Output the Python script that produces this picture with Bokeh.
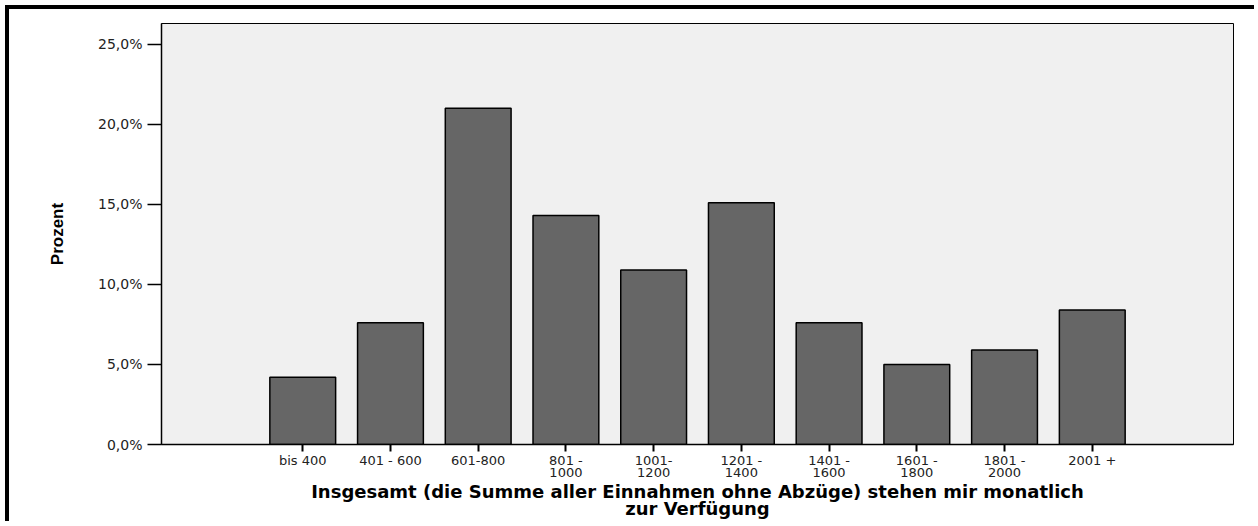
from bokeh.plotting import figure
from bokeh.models import FactorRange, Range1d, FixedTicker, ColumnDataSource
from bokeh.embed import file_html
from bokeh.resources import INLINE

categories = ["bis 400", "401 - 600", "601-800", "801 -\n1000", "1001-\n1200",
              "1201 -\n1400", "1401 -\n1600", "1601 -\n1800", "1801 -\n2000", "2001 +"]
percent = [4.2, 7.6, 21.0, 14.3, 10.9, 15.1, 7.6, 5.0, 5.9, 8.4]
y_ticks = [0, 5, 10, 15, 20, 25]
y_tick_labels = ["0,0%", "5,0%", "10,0%", "15,0%", "20,0%", "25,0%"]
x_title = "Insgesamt (die Summe aller Einnahmen ohne Abzüge) stehen mir monatlich\nzur Verfügung"
y_title = "Prozent"

source = ColumnDataSource(data=dict(cat=categories, pct=percent))

p = figure(
    width=1249, height=516,
    x_range=FactorRange(factors=categories, range_padding=1.11, range_padding_units="absolute"),
    y_range=Range1d(0, 26.3),
    output_backend="svg", toolbar_location=None,
    min_border_left=152, min_border_top=14, min_border_right=25, min_border_bottom=81,
    background_fill_color="#f0f0f0", border_fill_color="white",
)
p.styles = {"border-top": "4px solid black", "border-left": "4px solid black",
            "margin-top": "5px", "margin-left": "5px"}

p.vbar(x="cat", top="pct", width=0.75, source=source,
       fill_color="#666666", line_color="black", line_width=1.5)

p.xgrid.visible = False
p.ygrid.visible = False
p.outline_line_color = "black"
p.outline_line_width = 1

# y axis
p.yaxis.ticker = FixedTicker(ticks=y_ticks)
p.yaxis.major_label_overrides = {t: l for t, l in zip(y_ticks, y_tick_labels)}
p.yaxis.minor_tick_line_color = None
p.yaxis.major_tick_out = 14
p.yaxis.major_tick_in = 0
p.yaxis.major_tick_line_color = "black"
p.yaxis.major_tick_line_width = 1.5
p.yaxis.axis_line_color = "black"
p.yaxis.axis_line_width = 1.5
p.yaxis.major_label_text_font = "DejaVu Sans"
p.yaxis.major_label_text_font_size = "14px"
p.yaxis.major_label_text_color = "#222222"
p.yaxis.major_label_standoff = 5
p.yaxis.axis_label = y_title
p.yaxis.axis_label_text_font = "Liberation Sans"
p.yaxis.axis_label_text_font_style = "bold"
p.yaxis.axis_label_text_font_size = "17px"
p.yaxis.axis_label_text_color = "black"
p.yaxis.axis_label_standoff = 28

# x axis
p.xaxis.major_tick_out = 7
p.xaxis.major_tick_in = 0
p.xaxis.major_tick_line_color = "black"
p.xaxis.major_tick_line_width = 2
p.xaxis.axis_line_color = "black"
p.xaxis.axis_line_width = 1.5
p.xaxis.major_label_text_font = "DejaVu Sans"
p.xaxis.major_label_text_font_size = "13px"
p.xaxis.major_label_text_color = "#222222"
p.xaxis.major_label_text_line_height = 0.85
p.xaxis.major_label_standoff = 1
p.xaxis.axis_label = x_title
p.xaxis.axis_label_text_font = "DejaVu Sans"
p.xaxis.axis_label_text_font_style = "bold"
p.xaxis.axis_label_text_font_size = "18px"
p.xaxis.axis_label_text_color = "black"
p.xaxis.axis_label_text_line_height = 0.78
p.xaxis.axis_label_standoff = -2

open("out.html", "w").write(file_html(p, INLINE))
